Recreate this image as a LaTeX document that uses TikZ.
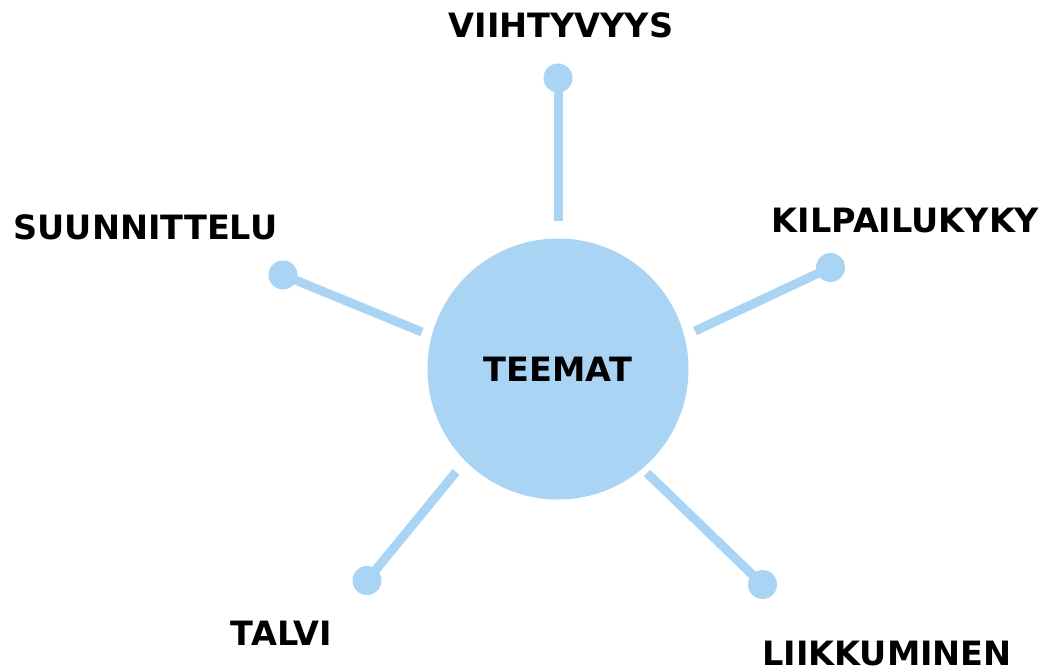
\documentclass[tikz,border=0pt]{standalone}
\usepackage{fontspec}
\setmainfont{DejaVu Sans}
\usetikzlibrary{positioning}
\definecolor{teemablue}{RGB}{169,212,243}

\begin{document}
\begin{tikzpicture}[x=1pt, y=-1pt,
		themetext/.style={font=\fontsize{33.5}{40}\selectfont\bfseries, inner sep=0pt},
		hub/.style={circle, fill=teemablue, minimum size=261pt, inner sep=0pt},
		dot/.style={circle, fill=teemablue, minimum size=29pt, inner sep=0pt},
		spoke/.style={draw=teemablue, line width=9pt}]
		\useasboundingbox (0,0) rectangle (1061,670);
		\node[hub, themetext] (teemat) at (558,369) {TEEMAT};
		% pallot
		\node[dot] (d1) at (558,78) {};
		\node[dot] (d2) at (830.5,267.5) {};
		\node[dot] (d3) at (762.5,584.5) {};
		\node[dot] (d4) at (367,580.5) {};
		\node[dot] (d5) at (283,275) {};
		% viivojen paat keskusympyran vieressa
		\coordinate (e1) at (558,221);
		\coordinate (e2) at (695,331);
		\coordinate (e3) at (647,473);
		\coordinate (e4) at (456,472);
		\coordinate (e5) at (422,332);
		\foreach \i in {1,...,5} {
			\draw[spoke] (d\i.center) -- (e\i);
		}
		\node[themetext] (viihtyvyys) at (561,25) {VIIHTYVYYS};
		\node[themetext] (kilpailukyky) at (905.5,220.5) {KILPAILUKYKY};
		\node[themetext] (liikkuminen) at (887,654) {LIIKKUMINEN};
		\node[themetext] (talvi) at (281.5,633.5) {TALVI};
		\node[themetext] (suunnittelu) at (145.5,227) {SUUNNITTELU};
	\end{tikzpicture}
\end{document}
